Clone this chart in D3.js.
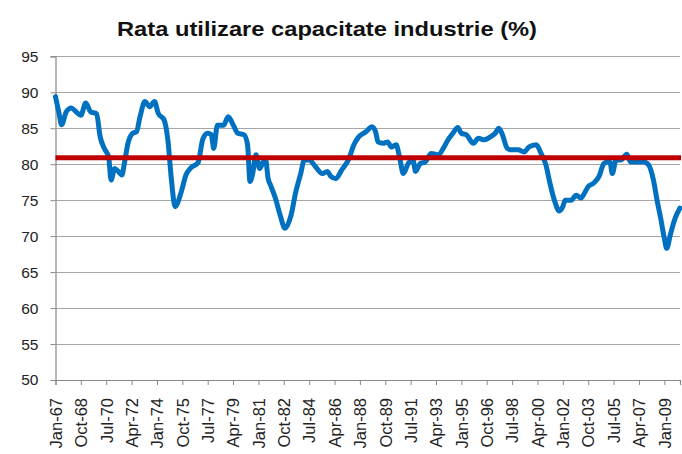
<!DOCTYPE html>
<html>
<head>
<meta charset="utf-8">
<script src="https://cdn.jsdelivr.net/npm/d3@7/dist/d3.min.js"></script>
<style>
  html, body { margin: 0; padding: 0; background: #fff; }
  svg { display: block; }
</style>
</head>
<body>
<svg id="chart" width="682" height="454"></svg>
<script>
// ---- Data ----
const title = "Rata utilizare capacitate industrie (%)";
const startMonth = "1967-01";
const endMonth = "2010-02";
const months = ["1967-01","1967-04","1967-06","1967-10","1968-02","1968-06","1968-10","1969-02","1969-06","1969-11",
  "1970-02","1970-06","1970-09","1970-11","1971-02","1971-05","1971-08","1971-10","1972-01","1972-05","1972-08",
  "1972-11","1973-03","1973-07","1973-11","1974-02","1974-07","1974-10","1975-01","1975-04","1975-09","1976-01",
  "1976-05","1976-11","1977-03","1977-07","1977-10","1977-12","1978-03","1978-08","1978-12","1979-04","1979-08",
  "1980-01","1980-04","1980-06","1980-08","1980-11","1981-02","1981-05","1981-07","1981-09","1981-11","1982-03",
  "1982-07","1982-11","1983-04","1983-08","1983-12","1984-03","1984-07","1984-12","1985-06","1985-10","1986-01",
  "1986-05","1986-10","1987-04","1987-08","1987-12","1988-06","1988-11","1989-02","1989-04","1989-08","1989-12",
  "1990-03","1990-07","1990-10","1991-01","1991-05","1991-09","1991-11","1992-03","1992-07","1992-12","1993-06",
  "1993-10","1994-02","1994-06","1994-10","1995-01","1995-05","1995-11","1996-03","1996-08","1997-01","1997-05",
  "1997-08","1997-11","1998-03","1998-06","1998-12","1999-05","1999-09","2000-03","2000-07","2000-11","2001-02",
  "2001-06","2001-10","2002-01","2002-03","2002-08","2002-12","2003-04","2003-06","2003-10","2004-02","2004-07",
  "2004-11","2005-02","2005-04","2005-06","2005-09","2006-01","2006-06","2006-09","2007-02","2007-08","2007-12",
  "2008-04","2008-07","2008-10","2009-01","2009-03","2009-06","2009-10","2010-02"];
const values = [89.4,87.0,85.5,87.3,87.8,87.3,86.8,88.5,87.3,87.0,
  83.8,82.0,81.0,77.8,79.4,79.0,78.5,80.1,82.9,84.3,84.5,
  86.6,88.7,88.0,88.7,87.1,86.1,83.4,77.8,74.1,76.1,78.5,
  79.5,80.2,83.5,84.3,84.1,82.2,85.4,85.4,86.6,85.5,84.3,
  84.1,82.7,77.6,78.5,81.3,79.4,80.3,80.6,78.0,77.1,75.3,
  72.9,71.1,72.9,76.2,78.7,80.6,80.6,79.7,78.7,79.0,78.3,
  78.0,79.2,80.8,82.7,83.8,84.5,85.2,84.5,83.1,82.9,83.1,
  82.4,82.7,80.8,78.7,80.1,80.6,79.0,80.1,80.3,81.5,81.3,
  82.2,83.4,84.3,85.1,84.3,84.1,82.9,83.6,83.4,83.8,84.3,
  85.0,84.1,82.2,82.0,82.0,81.7,82.4,82.7,81.5,79.9,77.6,
  75.0,73.5,74.1,75.0,75.0,75.7,75.3,75.7,76.9,77.3,78.3,
  80.1,80.3,80.3,78.7,80.6,80.6,81.4,80.3,80.3,80.3,79.9,
  77.8,75.0,72.5,69.7,68.3,70.2,72.5,73.9];
const averageLevel = 80.9;
const yTicks = [50,55,60,65,70,75,80,85,90,95];
const tickLabels = ["Jan-67","Oct-68","Jul-70","Apr-72","Jan-74","Oct-75","Jul-77","Apr-79","Jan-81",
  "Oct-82","Jul-84","Apr-86","Jan-88","Oct-89","Jul-91","Apr-93","Jan-95","Oct-96","Jul-98","Apr-00",
  "Jan-02","Oct-03","Jul-05","Apr-07","Jan-09"];

// ---- Helpers ----
const monNames = ["Jan","Feb","Mar","Apr","May","Jun","Jul","Aug","Sep","Oct","Nov","Dec"];
function isoIndex(s) {
  const [yr, mo] = s.split("-").map(Number);
  const [y0, m0] = startMonth.split("-").map(Number);
  return (yr - y0) * 12 + (mo - m0);
}
function labelIndex(lbl) {
  const [mn, yy] = lbl.split("-");
  const yr = +yy < 50 ? 2000 + +yy : 1900 + +yy;
  return isoIndex(yr + "-" + String(monNames.indexOf(mn) + 1).padStart(2, "0"));
}
const data = months.map((m, i) => ({ i: isoIndex(m), v: values[i] }));

// ---- Layout ----
const svg = d3.select("#chart");
const plotLeft = 55.5, plotRight = 680, plotTop = 56.3, plotBottom = 380;
const x = d3.scaleLinear().domain([0, isoIndex(endMonth)]).range([plotLeft, plotRight]);
const y = d3.scaleLinear().domain([50, 95]).range([plotBottom, plotTop]);

const font = "'Liberation Sans', Arial, sans-serif";

// Title
svg.append("text")
  .attr("x", 327).attr("y", 36)
  .attr("text-anchor", "middle")
  .attr("font-family", font).attr("font-weight", "bold")
  .attr("font-size", 21)
  .attr("textLength", 420).attr("lengthAdjust", "spacingAndGlyphs")
  .attr("fill", "#111")
  .text(title);

// Gridlines
svg.append("g").selectAll("line").data(yTicks.filter(t => t > 50)).join("line")
  .attr("x1", plotLeft).attr("x2", plotRight)
  .attr("y1", d => Math.round(y(d)) + 0.5).attr("y2", d => Math.round(y(d)) + 0.5)
  .attr("stroke", "#a6a6a6").attr("stroke-width", 1.2);

// Y axis
const yAxis = d3.axisLeft(y).tickValues(yTicks).tickSize(5).tickPadding(12);
const gy = svg.append("g").attr("transform", `translate(${plotLeft},0)`).call(yAxis);
gy.select(".domain").attr("stroke", "#888").attr("stroke-width", 1.2);
gy.selectAll(".tick line").attr("stroke", "#888");
gy.selectAll(".tick text").attr("font-family", font).attr("font-size", 15.5).attr("fill", "#222");

// X axis
const xAxis = d3.axisBottom(x)
  .tickValues(tickLabels.map(labelIndex))
  .tickFormat((d, i) => tickLabels[i])
  .tickSize(5).tickPadding(6);
const gx = svg.append("g").attr("transform", `translate(0,${plotBottom})`).call(xAxis);
gx.select(".domain").attr("stroke", "#888").attr("stroke-width", 1.2);
gx.selectAll(".tick line").attr("stroke", "#888");
gx.selectAll(".tick text")
  .attr("font-family", font).attr("font-size", 16.5).attr("fill", "#222")
  .attr("text-anchor", "end")
  .attr("transform", "rotate(-90)")
  .attr("x", -18).attr("y", 0).attr("dy", "0.35em");

// Series line
const line = d3.line().x(d => x(d.i)).y(d => y(d.v)).curve(d3.curveMonotoneX);
svg.append("path").datum(data)
  .attr("d", line)
  .attr("fill", "none").attr("stroke", "#0070C0")
  .attr("stroke-width", 5).attr("stroke-linejoin", "round").attr("stroke-linecap", "round");

// Average line
svg.append("line")
  .attr("x1", plotLeft).attr("x2", plotRight + 1)
  .attr("y1", y(averageLevel)).attr("y2", y(averageLevel))
  .attr("stroke", "#C00000").attr("stroke-width", 5);
</script>
</body>
</html>
